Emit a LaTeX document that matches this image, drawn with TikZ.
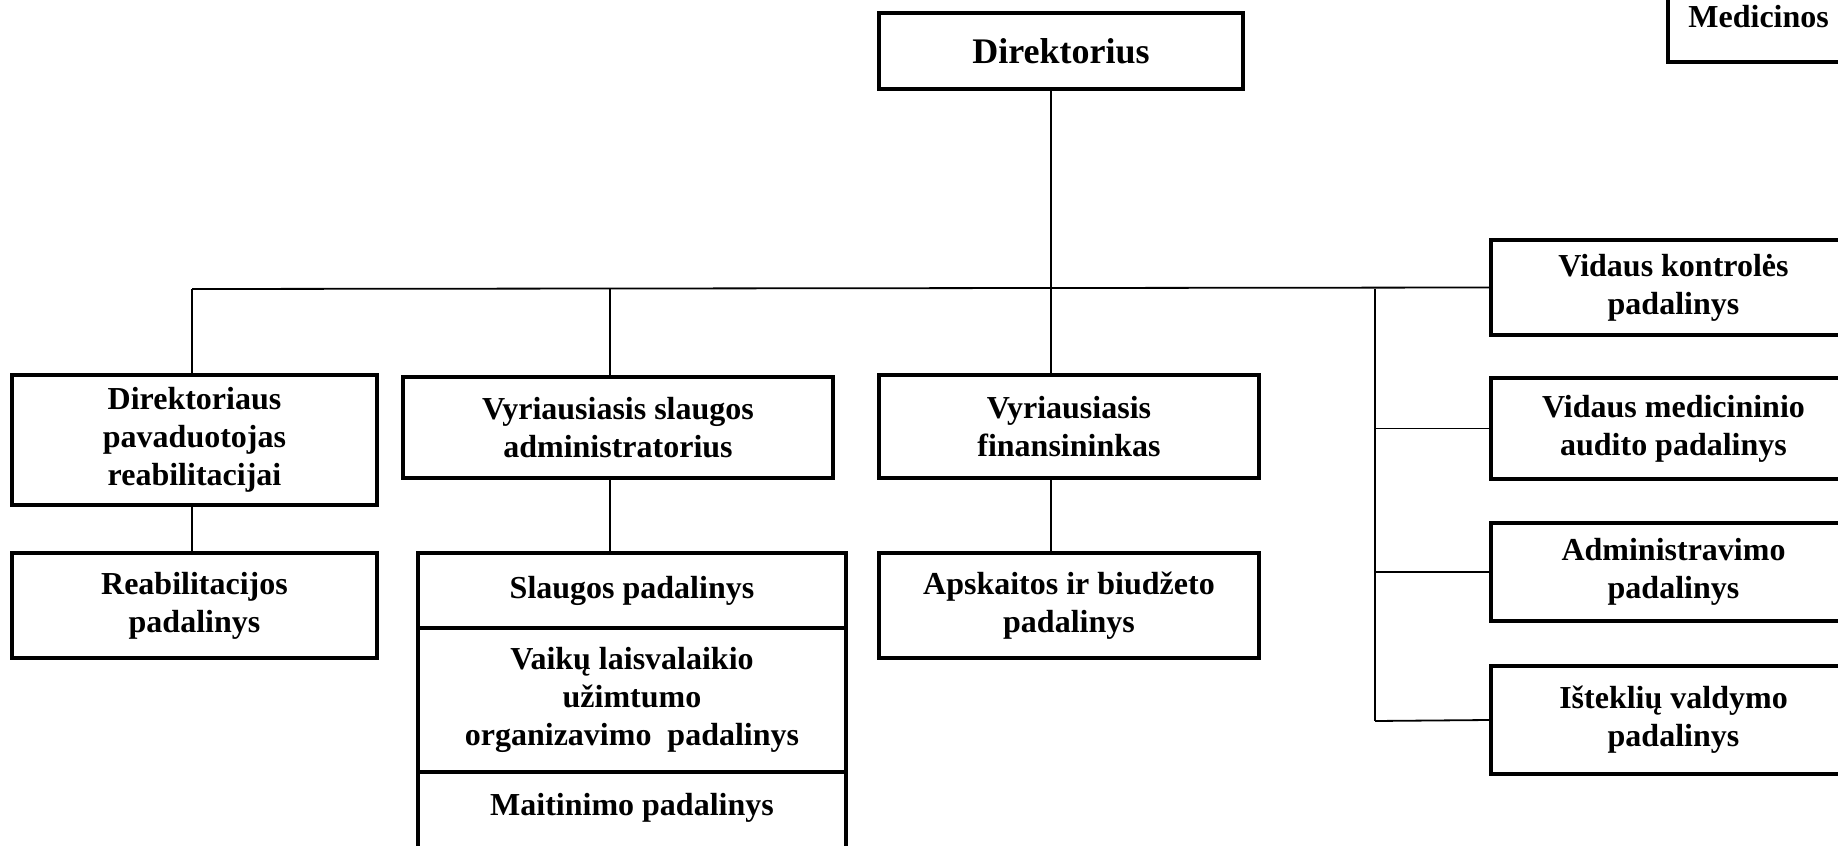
\documentclass[tikz,border=0pt]{standalone}
\usepackage{fontspec}
\setmainfont{Liberation Serif}
\begin{document}
\begin{tikzpicture}[x=0.5pt,y=-0.5pt,
  box/.style={draw, line width=2pt, rectangle, inner sep=0pt, align=center,
    font=\bfseries\fontsize{16}{19}\selectfont},
  lbl/.style={inner sep=0pt, align=center, font=\bfseries\fontsize{16}{19}\selectfont},
  conn/.style={line width=0.9pt}]
\useasboundingbox (0,0) rectangle (1838,846);
\clip (0,0) rectangle (1838,846);

% top
\node[box, minimum width=182pt, minimum height=38pt,
  font=\bfseries\fontsize{18}{21}\selectfont] (dir) at (1061,51) {Direktorius};
\node[box, minimum width=200pt, minimum height=52pt, anchor=south west] (med) at (1666,64) {};
\node[lbl, anchor=base west] (medt) at (1688,27) {Medicinos};

% second level
\node[box, minimum width=182.5pt, minimum height=65pt] (pav) at (194.5,440)
  {Direktoriaus\\pavaduotojas\\reabilitacijai};
\node[box, minimum width=215pt, minimum height=50.5pt] (sla) at (618,427.5)
  {Vyriausiasis slaugos\\administratorius};
\node[box, minimum width=190pt, minimum height=51.5pt] (fin) at (1069,426.5)
  {Vyriausiasis\\finansininkas};

% third level
\node[box, minimum width=182.5pt, minimum height=52.5pt] (reab) at (194.5,605.5)
  {Reabilitacijos\\padalinys};
\node[box, minimum width=214pt, minimum height=37.5pt] (s1) at (632,590.5)
  {Slaugos padalinys};
\node[box, minimum width=214pt, minimum height=72pt] (s2) at (632,700)
  {Vaikų laisvalaikio\\užimtumo\\organizavimo\ \ padalinys};
\node[box, minimum width=214pt, minimum height=39pt] (s3) at (632,811) {};
\node[lbl] (s3t) at (632,808) {Maitinimo padalinys};
\node[box, minimum width=190pt, minimum height=52.5pt] (aps) at (1069,605.5)
  {Apskaitos ir biudžeto\\padalinys};

% right column
\node[box, minimum width=182.5pt, minimum height=47.5pt] (r1) at (1673.5,287.5)
  {Vidaus kontrolės\\padalinys};
\node[box, minimum width=182.5pt, minimum height=50.5pt] (r2) at (1673.5,428.5)
  {Vidaus medicininio\\audito padalinys};
\node[box, minimum width=182.5pt, minimum height=49pt] (r3) at (1673.5,572)
  {Administravimo\\padalinys};
\node[box, minimum width=182.5pt, minimum height=54pt] (r4) at (1673.5,720)
  {Išteklių valdymo\\padalinys};

% bus coordinates
\coordinate (bl) at (192,289);
\coordinate (bs) at (610,289);
\coordinate (bc) at (1051,289);
\coordinate (br) at (1375,289);
\coordinate (rv) at (1375,721);

% connectors
\draw[conn] (bl) -- (r1.west);
\draw[conn] (dir.south -| bc) -- (fin.north -| bc);
\draw[conn] (bl) -- (pav.north -| bl);
\draw[conn] (pav.south -| bl) -- (reab.north -| bl);
\draw[conn] (bs) -- (sla.north -| bs);
\draw[conn] (sla.south -| bs) -- (s1.north -| bs);
\draw[conn] (fin.south -| bc) -- (aps.north -| bc);
\draw[conn] (br) -- (rv);
\draw[conn] (r2.west -| br) -- (r2.west);
\draw[conn] (r3.west -| br) -- (r3.west);
\draw[conn] (rv) -- (r4.west);
\end{tikzpicture}
\end{document}
